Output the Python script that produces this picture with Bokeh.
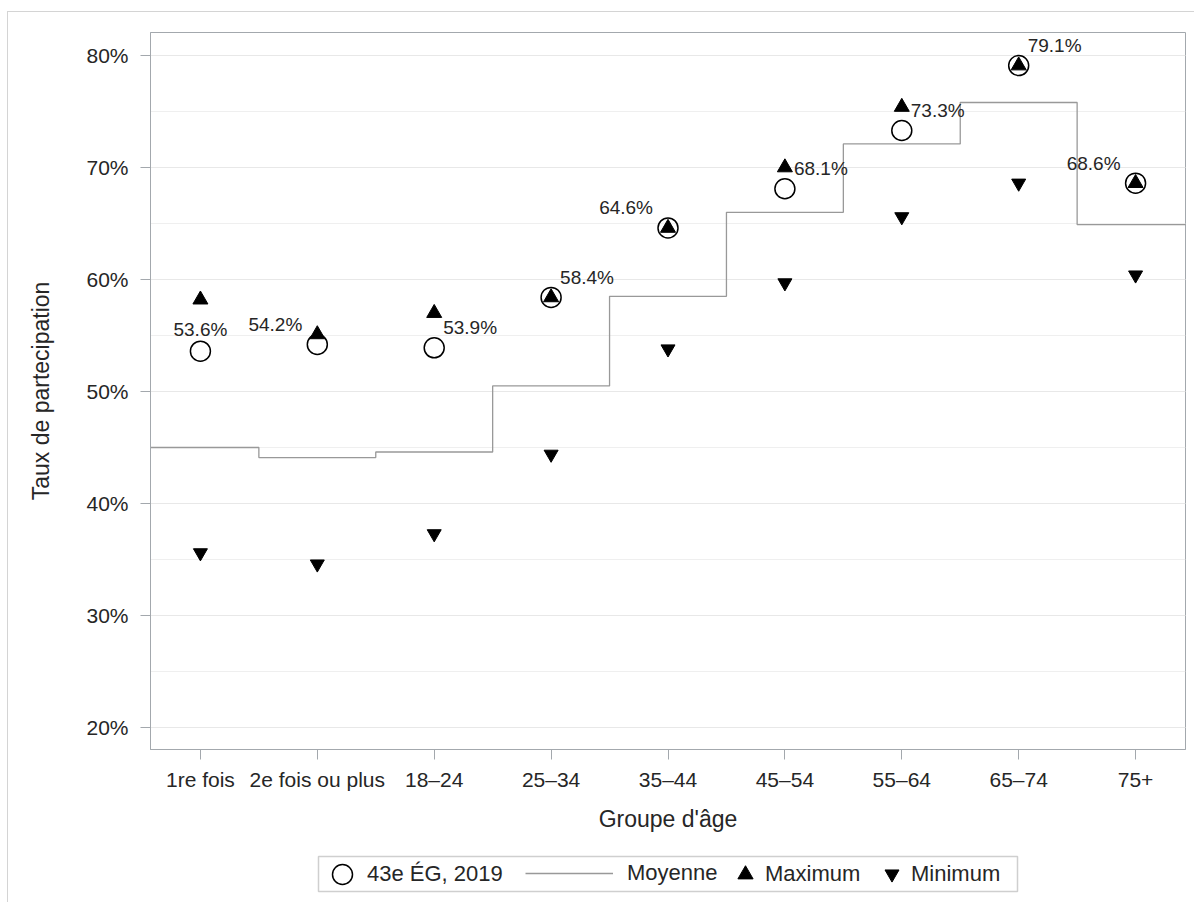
import numpy as np
from bokeh.plotting import figure
from bokeh.layouts import column
from bokeh.models import (FixedTicker, SingleIntervalTicker, PrintfTickFormatter, Legend,
                          LegendItem, Range1d)
from bokeh.core.properties import value
from bokeh.embed import file_html
from bokeh.resources import INLINE

# ---------------- data ----------------
categories = ["1re fois", "2e fois ou plus", "18–24", "25–34", "35–44",
              "45–54", "55–64", "65–74", "75+"]
eg2019 = [53.6, 54.2, 53.9, 58.4, 64.6, 68.1, 73.3, 79.1, 68.6]
moyenne = [45.0, 44.1, 44.6, 50.5, 58.5, 66.0, 72.1, 75.8, 64.9]
maximum = [58.2, 55.1, 57.0, 58.4, 64.6, 70.0, 75.4, 79.1, 68.6]
minimum = [35.6, 34.6, 37.3, 44.4, 53.8, 59.7, 65.6, 68.6, 60.4]
y_ticks = [20, 30, 40, 50, 60, 70, 80]
# placement of each data label relative to its point (style)
label_side = ["above", "left", "right", "right", "left", "right", "right", "right", "left"]

FONT = "Liberation Sans"
TXT = "#262626"
AXC = "#a3a8ad"
STEP_C = "#999999"
MB_L, MB_R = 142, 9

x = np.arange(len(categories))

p = figure(width=1186, height=830, output_backend="svg", toolbar_location=None,
           x_range=Range1d(-0.427, len(categories) - 1 + 0.427),
           y_range=Range1d(18.04, 82.05),
           min_border_left=MB_L, min_border_right=MB_R, min_border_top=20, min_border_bottom=93)
p.background_fill_color = "white"
p.border_fill_color = "white"
p.outline_line_color = AXC
p.outline_line_width = 1

# axes
p.xaxis.ticker = FixedTicker(ticks=list(x))
p.xaxis.major_label_overrides = {int(i): c for i, c in zip(x, categories)}
p.yaxis.ticker = FixedTicker(ticks=y_ticks)
p.yaxis.formatter = PrintfTickFormatter(format="%d%%")
for ax in (p.xaxis[0], p.yaxis[0]):
    ax.axis_line_color = AXC
    ax.major_tick_line_color = AXC
    ax.major_tick_out = 10
    ax.major_tick_in = 0
    ax.minor_tick_line_color = None
    ax.major_label_text_font = FONT
    ax.major_label_text_font_size = "21px"
    ax.major_label_text_color = TXT
    ax.axis_label_text_font = FONT
    ax.axis_label_text_font_size = "23px"
    ax.axis_label_text_font_style = "normal"
    ax.axis_label_text_color = TXT
p.yaxis.major_label_standoff = 12
p.xaxis.major_label_standoff = 8
p.yaxis.axis_label = "Taux de partecipation"
p.xaxis.axis_label = "Groupe d'âge"
p.yaxis.axis_label_standoff = 29
p.xaxis.axis_label_standoff = 12

p.xgrid.grid_line_color = None
p.ygrid.grid_line_color = "#e8e8e8"
p.ygrid.minor_grid_line_color = "#efefef"
p.ygrid.ticker = SingleIntervalTicker(interval=10, num_minor_ticks=2)

# ---------------- glyphs ----------------
circ_style = dict(marker="circle", size=20, line_color="black", line_width=1.5, fill_color=None)
max_style = dict(marker="triangle", size=15, color="black")
min_style = dict(marker="inverted_triangle", size=14, color="black")
step_style = dict(line_color=STEP_C, line_width=1.3)

p.scatter(x, eg2019, **circ_style)
edges = np.arange(len(categories) + 1) - 0.5
p.step(edges, moyenne + [moyenne[-1]], mode="after", **step_style)
p.scatter(x, maximum, **max_style)
p.scatter(x, minimum, **min_style)

# data labels
side_style = {
    "above": dict(text_align="center", x_offset=0, y_offset=-22),
    "left": dict(text_align="right", x_offset=-15, y_offset=-20),
    "right": dict(text_align="left", x_offset=9, y_offset=-20),
}
for side, st in side_style.items():
    idx = [i for i, s in enumerate(label_side) if s == side]
    if not idx:
        continue
    p.text([x[i] for i in idx], [eg2019[i] for i in idx],
           text=[f"{eg2019[i]:.1f}%" for i in idx],
           text_font=value(FONT), text_font_size="19px", text_color=TXT,
           text_baseline="middle", **st)

# ---------------- legend strip (frame aligned with the main plot) ----------------
# coordinates in this strip are page pixels: x 150..1185, y 842..900 (downwards)
lf = figure(width=1186, height=60, output_backend="svg", toolbar_location=None,
            x_range=Range1d(150, 1185), y_range=Range1d(900, 842),
            min_border_left=MB_L, min_border_right=MB_R, min_border_top=0, min_border_bottom=2)
lf.axis.visible = False
lf.grid.visible = False
lf.outline_line_color = None
lf.background_fill_color = "white"
lf.border_fill_color = "white"

# legend box
lf.quad(left=[318], right=[1017], top=[856], bottom=[891], fill_color=None,
        line_color="#cfcfcf", line_width=1.5)

# renderers that only feed the legend glyphs (kept outside the visible area)
lr_circ = lf.scatter([0], [0], **circ_style)
lr_step = lf.line([0, 1], [0, 0], **step_style)
lr_max = lf.scatter([0], [0], **max_style)
lr_min = lf.scatter([0], [0], **min_style)


def add_legend(label, rend, xloc, gw, gh, so):
    # legend glyph markers are drawn at 0.4 x the smaller glyph side
    lg = Legend(items=[LegendItem(label=label, renderers=[rend])],
                location=(xloc, 26.5 - gh / 2),
                orientation="horizontal", glyph_width=gw, glyph_height=gh, label_height=gh,
                label_standoff=so, padding=0, margin=0, spacing=0,
                border_line_color=None, background_fill_alpha=0,
                label_text_font=FONT, label_text_font_size="22px", label_text_color=TXT)
    lf.add_layout(lg)


add_legend("43e ÉG, 2019", lr_circ, 167, 50, 50, -2)
add_legend("Moyenne", lr_step, 375, 88, 24, 14)
add_legend("Maximum", lr_max, 576, 38, 38, 1)
add_legend("Minimum", lr_min, 724, 35, 35, 2)

layout = column(p, lf, spacing=0,
                styles={"margin-left": "7px", "margin-top": "11px",
                        "border-left": "1px solid #d4d4d4", "border-top": "1px solid #d4d4d4"})

open("out.html", "w").write(file_html(layout, INLINE))
